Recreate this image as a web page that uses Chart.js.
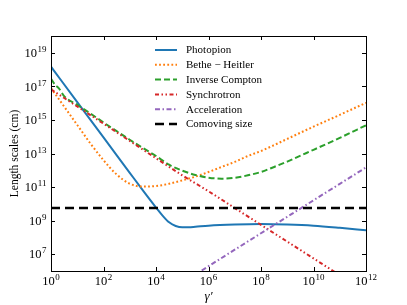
<!DOCTYPE html>
<html>
<head>
<meta charset="utf-8">
<script src="https://cdn.jsdelivr.net/npm/chart.js@4.4.0/dist/chart.umd.min.js"></script>
<style>
  html, body { margin: 0; padding: 0; background: #fff; }
  #grafico { display: block; }
</style>
</head>
<body>
<canvas id="grafico" width="407" height="305"></canvas>
<script>
// --- Dados (escala log) ---
const gammaPhotopion = [1, 10, 1e2, 1e3, 3.16e3, 1e4, 1.78e4, 3.16e4, 5.62e4, 1e5, 1.78e5, 3.16e5, 1e6, 1e7, 1e8, 1e9, 1e10, 1e11, 1e12];
const photopion = [1.48e18, 1.15e16, 9.12e13, 7.08e11, 6.31e10, 6.03e9, 2.0e9, 7.94e8, 4.79e8, 3.98e8, 3.98e8, 4.27e8, 5.01e8, 5.89e8, 6.31e8, 5.89e8, 5.01e8, 3.72e8, 2.63e8];

const gammaBH = [1, 3.16, 10, 31.6, 100, 316, 1e3, 3.16e3, 1e4, 3.16e4, 1e5, 3.16e5, 1e6, 3.16e6, 1e7, 3.16e7, 1e8, 3.16e8, 1e9, 1e10, 1e11, 1e12];
const betheHeitler = [7.94e16, 6.31e15, 5.01e14, 3.98e13, 3.98e12, 5.62e11, 1.58e11, 1.07e11, 1.15e11, 1.58e11, 2.51e11, 4.17e11, 7.94e11, 1.58e12, 3.16e12, 7.08e12, 1.41e13, 3.16e13, 7.41e13, 3.98e14, 2.0e15, 1.05e16];

const gammaIC = [1, 1.41, 2, 3.16, 10, 31.6, 100, 316, 1e3, 3.16e3, 1e4, 3.16e4, 1e5, 3.16e5, 1e6, 3.16e6, 1e7, 3.16e7, 1e8, 3.16e8, 1e9, 1e10, 1e11, 1e12];
const inverseCompton = [2.82e17, 1.26e17, 7.59e16, 2.63e16, 7.94e15, 2.4e15, 7.08e14, 2.14e14, 6.61e13, 2.14e13, 7.08e12, 2.14e12, 9.55e11, 5.25e11, 3.63e11, 3.16e11, 3.55e11, 5.01e11, 7.94e11, 1.58e12, 3.31e12, 1.66e13, 8.51e13, 4.79e14];

const gammaSync = [1, 10, 1e2, 1e3, 1e4, 1e5, 1e6, 1e7, 1e8, 1e9, 1e10, 1e11];
const synchrotron = [6.61e16, 6.31e15, 6.03e14, 5.62e13, 5.25e12, 5.01e11, 5.62e10, 5.62e9, 5.62e8, 5.62e7, 5.62e6, 5.62e5];

const gammaAcc = [1e5, 1e7, 1e9, 1e11, 1e12];
const acceleration = [2.0e5, 1.86e7, 1.7e9, 1.55e11, 1.48e12];

const gammaComoving = [1, 1e12];
const comovingSize = [5.62e9, 5.62e9];

const xTicks = [1, 1e2, 1e4, 1e6, 1e8, 1e10, 1e12];
const yTicks = [1e7, 1e9, 1e11, 1e13, 1e15, 1e17, 1e19];

const fonte = '"Liberation Serif", "DejaVu Serif", serif';

// --- Monta pontos {x, y} ---
function pontos(xs, ys) {
  return xs.map((x, i) => ({ x: x, y: ys[i] }));
}

const series = [
  { label: "Photopion", xs: gammaPhotopion, ys: photopion, cor: "#1f77b4", dash: [], largura: 2, suave: true },
  { label: "Bethe \u2212 Heitler", xs: gammaBH, ys: betheHeitler, cor: "#ff7f0e", dash: [1.8, 2.3], largura: 2, suave: true },
  { label: "Inverse Compton", xs: gammaIC, ys: inverseCompton, cor: "#2ca02c", dash: [6, 3], largura: 2, suave: true },
  { label: "Synchrotron", xs: gammaSync, ys: synchrotron, cor: "#d62728", dash: [4, 2.5, 1.5, 2.5, 1.5, 2.5], largura: 2, suave: true },
  { label: "Acceleration", xs: gammaAcc, ys: acceleration, cor: "#9467bd", dash: [5, 2.5, 1.5, 2.5], largura: 2, suave: false },
  { label: "Comoving size", xs: gammaComoving, ys: comovingSize, cor: "#000000", dash: [9, 5], largura: 2.5, suave: false }
];

// --- Desenha "10^n" com expoente ---
function desenhaPotencia(ctx, valor, x, y, alinhamento) {
  const expo = String(Math.round(Math.log10(valor)));
  ctx.font = "12.5px " + fonte;
  const wBase = ctx.measureText("10").width;
  ctx.font = "9px " + fonte;
  const wExp = ctx.measureText(expo).width;
  const total = wBase + wExp + 0.5;
  let esq = x - total / 2;
  if (alinhamento === "direita") esq = x - total;
  ctx.textAlign = "left";
  ctx.textBaseline = "alphabetic";
  ctx.font = "12.5px " + fonte;
  ctx.fillText("10", esq, y);
  ctx.font = "9px " + fonte;
  ctx.fillText(expo, esq + wBase + 0.5, y - 5);
}

// --- Plugin: moldura, ticks internos, rótulos e legenda ---
const molduraEixos = {
  id: "molduraEixos",
  afterDraw(chart) {
    const ctx = chart.ctx;
    const a = chart.chartArea;
    const sx = chart.scales.x;
    const sy = chart.scales.y;
    ctx.save();
    ctx.strokeStyle = "#000";
    ctx.fillStyle = "#000";
    ctx.lineWidth = 1;
    ctx.setLineDash([]);
    ctx.strokeRect(Math.round(a.left) + 0.5, Math.round(a.top) + 0.5, Math.round(a.right - a.left), Math.round(a.bottom - a.top));

    const tam = 4;
    ctx.beginPath();
    xTicks.forEach(v => {
      const px = Math.round(sx.getPixelForValue(v)) + 0.5;
      ctx.moveTo(px, a.bottom); ctx.lineTo(px, a.bottom - tam);
      ctx.moveTo(px, a.top); ctx.lineTo(px, a.top + tam);
    });
    yTicks.forEach(v => {
      const py = Math.round(sy.getPixelForValue(v)) + 0.5;
      ctx.moveTo(a.left, py); ctx.lineTo(a.left + tam, py);
      ctx.moveTo(a.right, py); ctx.lineTo(a.right - tam, py);
    });
    ctx.stroke();

    xTicks.forEach(v => desenhaPotencia(ctx, v, sx.getPixelForValue(v), a.bottom + 14, "centro"));
    yTicks.forEach(v => desenhaPotencia(ctx, v, a.left - 4.5, sy.getPixelForValue(v) + 4.2, "direita"));

    // títulos dos eixos
    ctx.textAlign = "center";
    ctx.textBaseline = "alphabetic";
    ctx.font = "italic 13px " + fonte;
    ctx.fillText("\u03b3\u2032", (a.left + a.right) / 2, 300);
    ctx.save();
    ctx.translate(18, (a.top + a.bottom) / 2);
    ctx.rotate(-Math.PI / 2);
    ctx.font = "11.5px " + fonte;
    ctx.fillText("Length scales (cm)", 0, 0);
    ctx.restore();

    // legenda
    ctx.font = "11px " + fonte;
    ctx.textAlign = "left";
    ctx.textBaseline = "middle";
    series.forEach((s, i) => {
      const y = 50 + i * 14.8;
      ctx.beginPath();
      ctx.strokeStyle = s.cor;
      ctx.lineWidth = s.largura;
      ctx.setLineDash(s.dash);
      ctx.moveTo(155, y);
      ctx.lineTo(177, y);
      ctx.stroke();
      ctx.setLineDash([]);
      ctx.fillStyle = "#000";
      ctx.fillText(s.label, 186, y + 0.5);
    });
    ctx.restore();
  }
};

const ctx = document.getElementById("grafico").getContext("2d");
const grafico = new Chart(ctx, {
  type: "line",
  data: {
    datasets: series.map((s, i) => ({
      label: s.label,
      data: pontos(s.xs, s.ys),
      borderColor: s.cor,
      borderWidth: s.largura,
      borderDash: s.dash,
      borderCapStyle: "butt",
      pointRadius: 0,
      fill: false,
      cubicInterpolationMode: s.suave ? "monotone" : "default",
      tension: 0,
      order: series.length - i
    }))
  },
  options: {
    responsive: false,
    animation: false,
    devicePixelRatio: 1,
    layout: { padding: { left: 0, right: 41, top: 36, bottom: 0 } },
    plugins: { legend: { display: false }, tooltip: { enabled: false } },
    scales: {
      x: {
        type: "logarithmic", min: 1, max: 1e12,
        grid: { display: false }, border: { display: false },
        ticks: { display: false },
        afterFit: s => { s.height = 34; }
      },
      y: {
        type: "logarithmic", min: 1e6, max: 1e20,
        grid: { display: false }, border: { display: false },
        ticks: { display: false },
        afterFit: s => { s.width = 51; }
      }
    }
  },
  plugins: [molduraEixos]
});
</script>
</body>
</html>
